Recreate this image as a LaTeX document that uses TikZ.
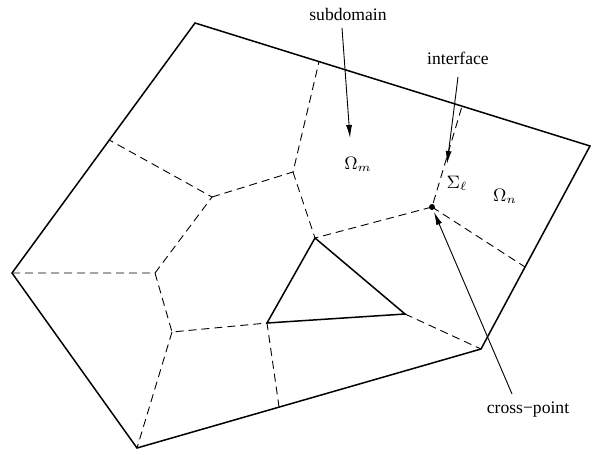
\documentclass[tikz,border=0pt]{standalone}
\usepackage{fontspec}
\setmainfont{Liberation Serif}
\usepackage{tikz}
\usetikzlibrary{calc,arrows.meta}

\begin{document}
\begin{tikzpicture}[x=0.5pt, y=-0.5pt, >={Latex[length=6.5pt,width=3pt]}, outline/.style = {line width=0.75pt, line join=miter}, iface/.style = {dash pattern=on 4pt off 2.5pt, line width=0.45pt}, pointer/.style = {->, line width=0.45pt}, lbl/.style = {inner sep=1pt, font=\fontsize{8.8}{10}\selectfont}]

\useasboundingbox (0,0) rectangle (592,454);

% outer boundary
\coordinate (T) at (195,23);
\coordinate (R) at (590,146);
\coordinate (BR) at (481,349);
\coordinate (B) at (137,448);
\coordinate (L) at (12,273);

% hole
\coordinate (ta) at (315,238);
\coordinate (tb) at (267,323);
\coordinate (tc) at (405,314);

% inner cross-points
\coordinate (p1) at (155,273);
\coordinate (p2) at (212,197);
\coordinate (p3) at (293,172);
\coordinate (p4) at (172,332);
\coordinate (x) at (432,207);

% ends of interfaces on the boundary
\coordinate (e1) at ($(T)!0.468!(L)$);
\coordinate (e2) at ($(T)!0.314!(R)$);
\coordinate (e3) at ($(T)!0.676!(R)$);
\coordinate (e4) at ($(R)!0.596!(BR)$);
\coordinate (e5) at ($(B)!0.413!(BR)$);

\draw[outline] (T) -- (R) -- (BR) -- (B) -- (L) -- cycle;
\draw[outline] (ta) -- (tb) -- (tc) -- cycle;

\draw[iface] (L) -- (p1) -- (p2) -- (e1);
\draw[iface] (p2) -- (p3) -- (e2);
\draw[iface] (p3) -- (ta) -- (x) -- (e3);
\draw[iface] (x) -- (e4);
\draw[iface] (p1) -- (p4) -- (tb) -- (e5);
\draw[iface] (p4) -- (B);
\draw[iface] (tc) -- (BR);

\fill (x) circle (1.5pt);

% labels
\node[lbl] (sub) at (348,14) {subdomain};
\node[lbl] (ifc) at (458,58) {interface};
\node[lbl] (om) at (358,164) {$\Omega_m$};
\node[lbl] (sig) at (457,183) {$\Sigma_\ell$};
\node[lbl] (on) at (505,196) {$\Omega_n$};
\node[lbl] (cp) at (528,410) {cross−point};

\coordinate (s0) at (342,28);
\coordinate (s1) at (350,138);
\coordinate (i0) at (458,77);
\coordinate (i1) at (447,164);
\coordinate (c0) at (512,394);
\coordinate (c1) at (434,212);

\draw[pointer] (s0) -- (s1);
\draw[pointer] (i0) -- (i1);
\draw[pointer] (c0) -- (c1);
\end{tikzpicture}
\end{document}
